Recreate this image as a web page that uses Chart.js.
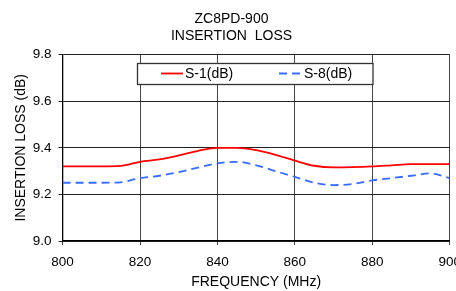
<!DOCTYPE html>
<html>
<head>
<meta charset="utf-8">
<script src="https://cdn.jsdelivr.net/npm/chart.js@4.4.0/dist/chart.umd.min.js"></script>
<style>
  html, body { margin: 0; padding: 0; background: #fff; overflow: hidden; }
  #wrap { width: 470px; height: 291px; position: relative; }
</style>
</head>
<body>
<div id="wrap"><canvas id="lossChart" width="470" height="291"></canvas></div>
<script>
// frequency points (MHz)
const freqs = [800, 805, 810, 815, 820, 825, 830, 835, 840, 845, 850,
               855, 860, 865, 870, 875, 880, 885, 890, 895, 900];
// insertion loss values (dB)
const s1 = [9.32, 9.32, 9.32, 9.322, 9.34, 9.35, 9.367, 9.387, 9.40, 9.40, 9.39,
            9.37, 9.345, 9.323, 9.316, 9.317, 9.32, 9.325, 9.33, 9.33, 9.33];
const s8 = [9.25, 9.25, 9.25, 9.252, 9.27, 9.28, 9.296, 9.315, 9.333, 9.34, 9.325,
            9.30, 9.275, 9.25, 9.24, 9.245, 9.26, 9.27, 9.28, 9.29, 9.27];
const seriesNames = ['S-1(dB)', 'S-8(dB)'];
const titleLines = ['ZC8PD-900', 'INSERTION  LOSS'];

const FONT = 'Liberation Sans, Arial, sans-serif';

// legend box drawn inside the plot area
const boxLegend = {
  id: 'boxLegend',
  afterDatasetsDraw(chart) {
    const c = chart.ctx;
    c.save();
    c.fillStyle = '#fff';
    c.fillRect(137.5, 63.5, 235.5, 21);
    c.strokeStyle = '#333';
    c.lineWidth = 1.3;
    c.strokeRect(137.5, 63.5, 235.5, 21);
    c.font = '14px ' + FONT;
    c.textBaseline = 'middle';
    c.fillStyle = '#000';
    const items = [{x: 161, w: 22}, {x: 279, w: 23}];
    chart.data.datasets.forEach((ds, i) => {
      c.beginPath();
      c.strokeStyle = ds.borderColor;
      c.lineWidth = ds.borderWidth;
      c.setLineDash(ds.borderDash || []);
      c.moveTo(items[i].x, 73.5);
      c.lineTo(items[i].x + items[i].w, 73.5);
      c.stroke();
      c.setLineDash([]);
      c.fillText(ds.label, items[i].x + items[i].w + 2, 74);
    });
    c.restore();
  }
};

new Chart(document.getElementById('lossChart'), {
  type: 'line',
  data: {
    datasets: [{
      label: seriesNames[0],
      data: freqs.map((f, i) => ({x: f, y: s1[i]})),
      borderColor: '#ff0000',
      borderWidth: 1.8,
      pointRadius: 0,
      cubicInterpolationMode: 'monotone'
    }, {
      label: seriesNames[1],
      data: freqs.map((f, i) => ({x: f, y: s8[i]})),
      borderColor: '#3a6cff',
      borderWidth: 1.8,
      borderDash: [8, 5],
      pointRadius: 0,
      cubicInterpolationMode: 'monotone'
    }]
  },
  options: {
    responsive: false,
    animation: false,
    layout: { padding: { left: 13, right: 20, top: 0, bottom: 0 } },
    plugins: {
      legend: { display: false },
      tooltip: { enabled: false },
      title: {
        display: true,
        text: titleLines,
        color: '#000',
        font: { family: FONT, size: 14, weight: 'normal', lineHeight: 1.2 },
        padding: { top: 11, bottom: 10 }
      }
    },
    scales: {
      x: {
        type: 'linear',
        min: 800, max: 900,
        ticks: { stepSize: 20, color: '#000', font: { family: FONT, size: 13.5 }, padding: 9, maxRotation: 0 },
        grid: { color: '#444', lineWidth: 1, tickLength: 4 },
        border: { color: '#000', width: 1.3 },
        title: { display: true, text: 'FREQUENCY (MHz)', color: '#000', font: { family: FONT, size: 14 }, padding: { top: -5, bottom: 0 } }
      },
      y: {
        min: 9.0, max: 9.8,
        ticks: { stepSize: 0.2, color: '#000', font: { family: FONT, size: 13.5 }, padding: 7,
                 callback: v => v.toFixed(1) },
        grid: { color: '#222', lineWidth: 1, tickLength: 4 },
        border: { color: '#000', width: 1.3 },
        title: { display: true, text: 'INSERTION LOSS (dB)', color: '#000', font: { family: FONT, size: 14 }, padding: { top: 0, bottom: -4 } }
      }
    }
  },
  plugins: [boxLegend]
});
</script>
</body>
</html>
